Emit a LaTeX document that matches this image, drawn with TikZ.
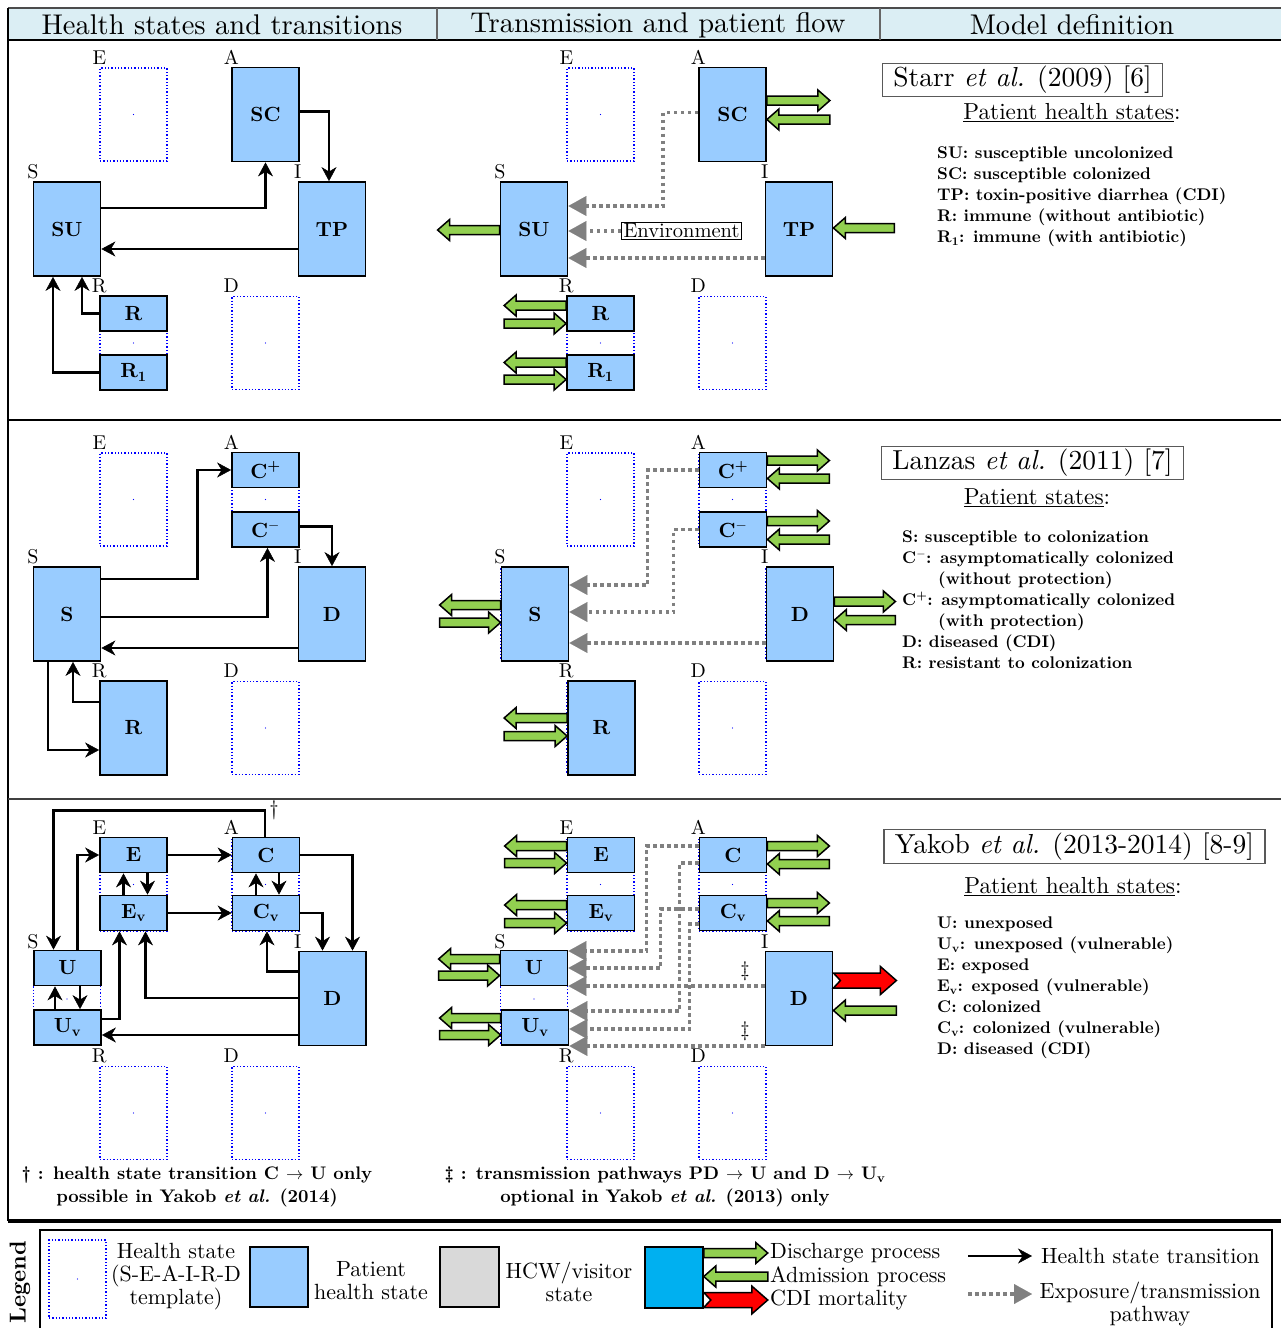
\documentclass[tikz,border=0pt]{standalone}
\usepackage{fontspec}
\setmainfont{lmroman10-regular}[Extension=.otf, BoldFont=lmroman10-bold, ItalicFont=lmroman10-italic, BoldItalicFont=lmroman10-bolditalic]
\usetikzlibrary{arrows.meta,calc}
\definecolor{boxblue}{RGB}{153,204,255}
\definecolor{hdr}{RGB}{219,238,244}
\definecolor{grn}{RGB}{146,208,80}
\definecolor{cyanbox}{RGB}{0,176,240}
\definecolor{hcw}{RGB}{217,217,217}
\tikzset{
 pbox/.style={draw=black, line width=1.8pt, fill=boxblue, minimum width=67pt, minimum height=94pt, inner sep=0pt, font=\fontsize{20.5}{20.5}\selectfont\bfseries},
 halfbox/.style={pbox, minimum height=35pt},
 tmpl/.style={draw=blue, dotted, line width=1.3pt, minimum width=67pt, minimum height=93pt, inner sep=0pt},
 lbl/.style={font=\fontsize{20}{20}\selectfont, inner sep=0pt, anchor=base},
 trans/.style={line width=2.8pt, -{Stealth[length=14pt,width=15pt,inset=4.5pt,line width=0.5pt]}},
 expo/.style={draw=gray, line width=3.5pt, dash pattern=on 3.5pt off 3.5pt, -{Triangle[length=18pt,width=20pt,line width=0.1pt]}},
 garrow/.style={fill=grn, draw=black, line width=1.5pt, line join=miter},
 rarrow/.style={fill=red, draw=black, line width=1.5pt, line join=miter},
 hdrtxt/.style={font=\fontsize{28.5}{28.5}\selectfont, inner sep=0pt},
 titlebox/.style={draw=black!65, line width=1.3pt, inner xsep=11pt, inner ysep=3pt, font=\fontsize{27.5}{27.5}\selectfont},
 subhead/.style={font=\fontsize{23.2}{23.2}\selectfont, inner sep=0pt},
 listtxt/.style={font=\fontsize{16.9}{21}\selectfont\bfseries, align=left, inner sep=0pt, anchor=north west},
 foot/.style={font=\fontsize{18.2}{23}\selectfont\bfseries, align=center, inner sep=0pt, anchor=north},
 legtxt/.style={font=\fontsize{22}{23}\selectfont, align=center, inner sep=0pt},
 envbox/.style={draw=black, line width=1pt, fill=white, inner xsep=2pt, inner ysep=1.5pt, font=\fontsize{20.5}{20.5}\selectfont},
}
% green block arrow: anchor, dx, dy (pixel, y down), signed length
\newcommand{\garr}[4]{%
  \path ($(#1)+(#2,#3)$) coordinate (gtmp);
  \pgfmathsetmacro{\ghl}{(#4)>0?12:-12}%
  \filldraw[garrow] (gtmp) ++(0,-4.5) -- ++({(#4)-(\ghl)},0) -- ++(0,-6) -- ++({\ghl},10.5) -- ++({-(\ghl)},10.5) -- ++(0,-6) -- ++({(\ghl)-(#4)},0) -- cycle;}
% red notched arrow pointing right
\newcommand{\rarr}[4]{%
  \path ($(#1)+(#2,#3)$) coordinate (rtmp);
  \filldraw[rarrow] (rtmp) ++(0,-7.5) -- ++({(#4)-16},0) -- ++(0,-6.5) -- ++(16,14) -- ++(-16,14) -- ++(0,-6.5) -- ++({16-(#4)},0) -- ++(7,-7.5) -- cycle;}
% S-E-A-I-R-D template
\newcommand{\tmplgrid}[3]{%
 \foreach \tn/\cx/\cy in {E/133.5/114.5,A/265.5/114.5,S/67/229,I/332/229,R/133.5/343,D/265.5/343}{%
  \node[tmpl] (#1\tn) at ({\cx+#2},{\cy+#3}) {};
  \fill[blue] (#1\tn.center) circle (0.7pt);
  \node[lbl] (#1\tn-lab) at ([yshift=3pt]#1\tn.north west) {\tn};
 }}
\begin{document}
\begin{tikzpicture}[x=1pt,y=-1pt]
\useasboundingbox (0,0) rectangle (1281,1328);
% ---------- frame ----------
\fill[hdr] (8,8) rectangle (1281,40);
\draw[line width=1.2pt, black!70] (8,8) -- (1281,8);
\draw[line width=1.5pt] (8,40) -- (1281,40);
\draw[line width=1.2pt, black!60] (437,8) -- (437,40) (880,8) -- (880,40);
\draw[line width=2pt] (8,8) -- (8,1221);
\draw[line width=2pt] (8,420) -- (1281,420);
\draw[line width=2pt, black!75] (8,799) -- (1281,799);
\draw[line width=3.5pt] (8,1221) -- (1281,1221);
\node[hdrtxt] (hd1) at (222,25) {Health states and transitions};
\node[hdrtxt] (hd2) at (658,25) {Transmission and patient flow};
\node[hdrtxt] (hd3) at (1072,25) {Model definition};

% ================= Panel 1: Starr =================
\tmplgrid{a}{0}{0}
\node[pbox] (aSC) at (265.5,114.5) {SC};
\node[pbox] (aSU) at (67,229) {SU};
\node[pbox] (aTP) at (332,229) {TP};
\node[halfbox] (aRr) at (133.5,313.5) {R};
\node[halfbox] (aRone) at (133.5,372.5) {R\textsubscript{1}};
\draw[trans] ([yshift=3pt]aSC.east) -| ([xshift=-3pt]aTP.north);
\draw[trans] ([yshift=21pt]aSU.east) -| (aSC.south);
\draw[trans] ([yshift=-20pt]aTP.west) -- ([yshift=-20pt]aSU.east);
\draw[trans] (aRr.west) -| ([xshift=15pt]aSU.south);
\draw[trans] (aRone.west) -| ([xshift=-14pt]aSU.south);

\tmplgrid{b}{467}{0}
\node[pbox] (bSC) at (732.5,114.5) {SC};
\node[pbox] (bSU) at (534,229) {SU};
\node[pbox] (bTP) at (799,229) {TP};
\node[halfbox] (bRr) at (600.5,313.5) {R};
\node[halfbox] (bRone) at (600.5,372.5) {R\textsubscript{1}};
\node[envbox] (env) at (681.5,231) {Environment};
\draw[expo] ([yshift=2pt]bSC.west) -- ++(-35,0) |- ([yshift=23pt]bSU.east);
\draw[expo] (env.west) -- (env.west -| bSU.east);
\draw[expo] ([yshift=-29pt]bTP.west) -- ([yshift=-29pt]bSU.east);
\garr{bSC.east}{0}{-14}{63}
\garr{bSC.east}{63}{5}{-63}
\garr{bTP.east}{61}{-1}{-61}
\garr{bSU.west}{0}{1}{-62}
\garr{bRr.west}{0}{-8}{-62}
\garr{bRr.west}{-62}{10}{62}
\garr{bRone.west}{0}{-10}{-62}
\garr{bRone.west}{-62}{7}{62}

\node[titlebox] (t1) at (1022.5,80) {Starr \textit{et al.} (2009) [6]};
\node[subhead] (h1) at (1072,113) {\underline{Patient health states}:};
\node[listtxt] (l1) at (937,147) {SU: susceptible uncolonized\\SC: susceptible colonized\\TP: toxin-positive diarrhea (CDI)\\R: immune (without antibiotic)\\R\textsubscript{1}: immune (with antibiotic)};

% ================= Panel 2: Lanzas =================
\tmplgrid{c}{0}{385}
\node[halfbox] (cCp) at (265.5,470) {C\textsuperscript{+}};
\node[halfbox] (cCm) at (265.5,529.5) {C\textsuperscript{$-$}};
\node[pbox] (cS) at (67,614) {S};
\node[pbox] (cD) at (332,614) {D};
\node[pbox] (cR) at (133.5,728) {R};
\draw[trans] ([yshift=35pt]cS.east) -- ++(96,0) |- (cCp.west);
\draw[trans] ([yshift=-3pt]cS.east) -| ([xshift=2pt]cCm.south);
\draw[trans] ([yshift=3pt]cCm.east) -| (cD.north);
\draw[trans] ([yshift=-34pt]cD.west) -- ([yshift=-34pt]cS.east);
\draw[trans] ([xshift=-19pt]cS.south) |- ([yshift=-22pt]cR.west);
\draw[trans] ([yshift=26pt]cR.west) -| ([xshift=6pt]cS.south);

\tmplgrid{d}{467}{385}
\node[halfbox] (dCp) at (733,470) {C\textsuperscript{+}};
\node[halfbox] (dCm) at (733,529.5) {C\textsuperscript{$-$}};
\node[pbox] (dS) at (535,614) {S};
\node[pbox] (dD) at (800,614) {D};
\node[pbox] (dR) at (601.5,728) {R};
\draw[expo] (dCp.west) -- ++(-51,0) |- ([yshift=29pt]dS.east);
\draw[expo] (dCm.west) -- ++(-25,0) |- ([yshift=2pt]dS.east);
\draw[expo] ([yshift=-29pt]dD.west) -- ([yshift=-29pt]dS.east);
\garr{dCp.east}{0}{-9.5}{62}
\garr{dCp.east}{62}{8.5}{-62}
\garr{dCm.east}{0}{-8.5}{62}
\garr{dCm.east}{62}{10}{-62}
\garr{dD.east}{0}{-12.5}{61}
\garr{dD.east}{61}{6}{-61}
\garr{dS.west}{0}{-9}{-61}
\garr{dS.west}{-61}{8.5}{61}
\garr{dR.west}{0}{-10}{-63}
\garr{dR.west}{-63}{8}{63}

\node[titlebox] (t2) at (1032.5,463) {Lanzas \textit{et al.} (2011) [7]};
\node[subhead] (h2) at (1037,498) {\underline{Patient states}:};
\node[listtxt] (l2) at (902,531) {S: susceptible to colonization\\C\textsuperscript{$-$}: asymptomatically colonized\\\hspace*{36pt}(without protection)\\C\textsuperscript{+}: asymptomatically colonized\\\hspace*{36pt}(with protection)\\D: diseased (CDI)\\R: resistant to colonization};

% ================= Panel 3: Yakob =================
\tmplgrid{e}{0}{770}
\node[halfbox] (eE) at (133.5,855) {E};
\node[halfbox] (eEv) at (133.5,913) {E\textsubscript{v}};
\node[halfbox] (eC) at (266,855) {C};
\node[halfbox] (eCv) at (266,913) {C\textsubscript{v}};
\node[halfbox] (eU) at (67.5,968) {U};
\node[halfbox] (eUv) at (67.5,1027.5) {U\textsubscript{v}};
\node[pbox] (eD) at (332.5,998.5) {D};
\draw[trans] ([xshift=-1pt]eC.north) -- ++(0,-26) node[right=3pt, font=\fontsize{21}{21}\selectfont, inner sep=0pt] (dagA) {\dag} -| ([xshift=-14pt]eU.north);
\draw[trans] ([xshift=10pt]eU.north) |- (eE.west);
\draw[trans] (eE.east) -- (eC.west);
\draw[trans] (eEv.east) -- (eCv.west);
\draw[trans] (eC.east) -| ([xshift=20pt]eD.north);
\draw[trans] (eCv.east) -| ([xshift=-10pt]eD.north);
\draw[trans] ([xshift=-10pt]eEv.north) -- ([xshift=-10pt]eE.south);
\draw[trans] ([xshift=14pt]eE.south) -- ([xshift=14pt]eEv.north);
\draw[trans] ([xshift=-10pt]eCv.north) -- ([xshift=-10pt]eC.south);
\draw[trans] ([xshift=13pt]eC.south) -- ([xshift=13pt]eCv.north);
\draw[trans] ([xshift=-12.5pt]eUv.north) -- ([xshift=-12.5pt]eU.south);
\draw[trans] ([xshift=12.5pt]eU.south) -- ([xshift=12.5pt]eUv.north);
\draw[trans] ([yshift=8.5pt]eUv.east) -| ([xshift=-14pt]eEv.south);
\draw[trans] ([yshift=0.5pt]eD.west) -| ([xshift=12pt]eEv.south);
\draw[trans] ([yshift=27pt]eD.west) -| ([xshift=1pt]eCv.south);
\draw[trans] ([yshift=-36.5pt]eD.west) -- ([yshift=-36.5pt]eD.west -| eUv.east);
\node[foot] (fn1) at (197,1167) {\dag\ : health state transition C $\rightarrow$ U only\\possible in Yakob \textit{et al.} (2014)};

\tmplgrid{f}{467}{770}
\node[halfbox] (fE) at (601,855) {E};
\node[halfbox] (fEv) at (601,913) {E\textsubscript{v}};
\node[halfbox] (fC) at (733,855) {C};
\node[halfbox] (fCv) at (733,913) {C\textsubscript{v}};
\node[halfbox] (fU) at (534,968) {U};
\node[halfbox] (fUv) at (535,1027.5) {U\textsubscript{v}};
\node[pbox] (fD) at (799,998.5) {D};
\draw[expo] ([yshift=9pt]fC.west) -- ++(-52,0) |- ([yshift=17pt]fU.east);
\draw[expo] ([yshift=4pt]fCv.west) -- ++(-38,0) |- (fU.east);
\draw[expo] ([yshift=12.5pt]fD.west) -- node[pos=0.1, above=3pt, font=\fontsize{21}{21}\selectfont, inner sep=0pt] (ddA) {\ddag} ([yshift=-18pt]fU.east);
\draw[expo] ([yshift=-8pt]fC.west) -- ++(-19,0) |- ([yshift=16.5pt]fUv.east);
\draw[expo] ([yshift=-11pt]fCv.west) -- ++(-9,0) |- ([yshift=-1.5pt]fUv.east);
\draw[expo] ([yshift=-47.5pt]fD.west) -- node[pos=0.1, above=3pt, font=\fontsize{21}{21}\selectfont, inner sep=0pt] (ddB) {\ddag} ([yshift=-18.5pt]fUv.east);
\garr{fE.west}{0}{-9}{-62}
\garr{fE.west}{-62}{8}{62}
\garr{fEv.west}{0}{-8}{-62}
\garr{fEv.west}{-62}{10}{62}
\garr{fC.east}{0}{-9}{62}
\garr{fC.east}{62}{9}{-62}
\garr{fCv.east}{0}{-10}{62}
\garr{fCv.east}{62}{8}{-62}
\garr{fU.west}{0}{-9}{-61}
\garr{fU.west}{-61}{7.5}{61}
\garr{fUv.west}{0}{-9.5}{-61}
\garr{fUv.west}{-61}{7.5}{61}
\rarr{fD.east}{0}{-18}{63}
\garr{fD.east}{63}{12}{-63}
\node[foot] (fn2) at (665,1167) {\ddag\ : transmission pathways PD $\rightarrow$ U and D $\rightarrow$ U\textsubscript{v}\\optional in Yakob \textit{et al.} (2013) only};

\node[titlebox] (t3) at (1074.5,846.5) {Yakob \textit{et al.} (2013-2014) [8-9]};
\node[subhead] (h3) at (1073,887) {\underline{Patient health states}:};
\node[listtxt] (l3) at (937,917) {U: unexposed\\U\textsubscript{v}: unexposed (vulnerable)\\E: exposed\\E\textsubscript{v}: exposed (vulnerable)\\C: colonized\\C\textsubscript{v}: colonized (vulnerable)\\D: diseased (CDI)};

% ================= Legend =================
\draw[line width=2pt] (40,1340) -- (40,1230) -- (1272,1230) -- (1272,1340);
\node[rotate=90, font=\fontsize{23}{23}\selectfont\bfseries, inner sep=0pt] (leg) at (20,1282) {Legend};
\node[tmpl, minimum width=57pt, minimum height=78pt] (lgT) at (77.5,1279) {};
\fill[blue] (lgT.center) circle (0.7pt);
\node[legtxt] (lgTt) at (176,1277) {Health state\\(S-E-A-I-R-D\\template)};
\node[pbox, minimum width=58pt, minimum height=60pt] (lgP) at (279,1277) {};
\node[legtxt] (lgPt) at (371,1281) {Patient\\health state};
\node[draw=black, line width=1.8pt, fill=hcw, minimum width=59pt, minimum height=60pt, inner sep=0pt] (lgH) at (469.5,1277) {};
\node[legtxt] (lgHt) at (569,1282) {HCW/visitor\\state};
\node[draw=black, line width=1.5pt, fill=cyanbox, minimum width=58pt, minimum height=61pt, inner sep=0pt] (lgC) at (674,1277.5) {};
\garr{lgC.east}{0}{-24.5}{64}
\garr{lgC.east}{64}{-1}{-64}
\rarr{lgC.east}{0}{22.5}{64}
\node[legtxt, anchor=west] (lgD1) at (770,1253) {Discharge process};
\node[legtxt, anchor=west] (lgD2) at (770,1277) {Admission process};
\node[legtxt, anchor=west] (lgD3) at (770,1300) {CDI mortality};
\node[legtxt, anchor=west] (lgTr) at (1041,1256) {Health state transition};
\coordinate (lgA1) at (968,1256);
\draw[trans] (lgA1) -- ([xshift=-9pt]lgTr.west);
\node[legtxt] (lgEx) at (1150,1304) {Exposure/transmission\\pathway};
\coordinate (lgA2) at (968,1294);
\draw[expo] (lgA2) -- (1032,1294);
\end{tikzpicture}
\end{document}
